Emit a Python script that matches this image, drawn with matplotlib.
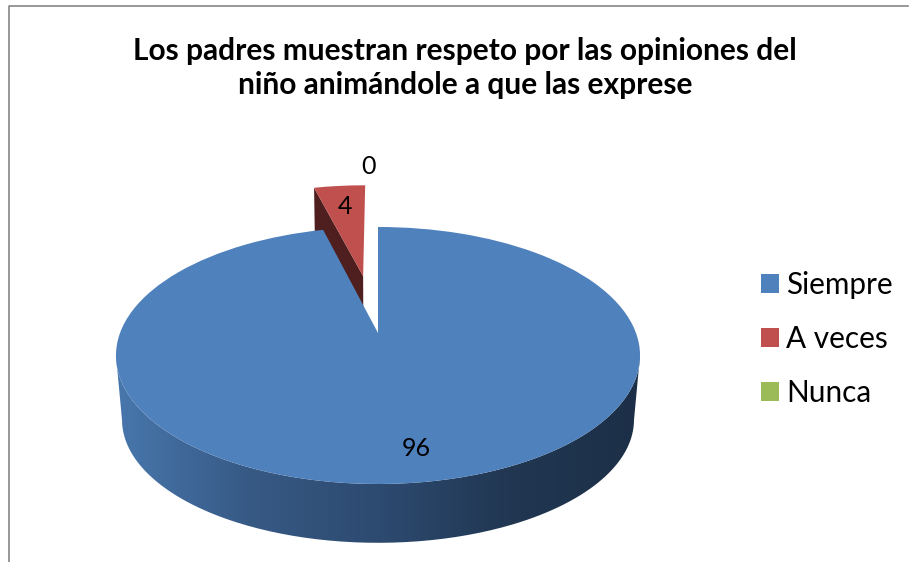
import matplotlib
matplotlib.use("Agg")
import matplotlib.pyplot as plt
import numpy as np
from matplotlib.colors import LinearSegmentedColormap
from matplotlib.patches import Patch, PathPatch, Polygon
from matplotlib.path import Path
from matplotlib.transforms import Transform

plt.rcParams['font.family'] = ['Lato', 'DejaVu Sans']

title = "Los padres muestran respeto por las opiniones del\nniño animándole a que las exprese"
categories = ["Siempre", "A veces", "Nunca"]
values = [96, 4, 0]
colors = ["#4f81bd", "#c0504d", "#9bbb59"]
explode = [0, 0.5, 0]


class Persp(Transform):
    # tilted view of the pie disk, unit disk -> image pixels
    input_dims = 2
    output_dims = 2

    def __init__(self, a=66.3, b=333.0, m=0.0):
        super().__init__()
        self.a = a
        self.b = b
        self.m = m

    def transform_non_affine(self, xy):
        xy = np.asarray(xy, dtype=float)
        u, v = xy[:, 0], xy[:, 1]
        w = 1 + 0.175 * v + self.m
        return np.column_stack([378 + 258 * u / w, (self.b - self.a * v) / w])


top = Persp()
bottom = Persp(a=52.3, b=408.0, m=0.023)


def wall(p_top, p_bottom):
    return np.vstack([top.transform_non_affine(p_top),
                      bottom.transform_non_affine(p_bottom)[::-1]])


fig = plt.figure(figsize=(9.09, 5.62), dpi=100)
ax = fig.add_axes([0, 0, 1, 1])

wedges, _ = ax.pie(values, colors=colors, startangle=90, counterclock=False,
                   explode=explode, frame=True, wedgeprops=dict(linewidth=0))
ax.set_aspect('auto')
for w in wedges:
    w.set_transform(top + ax.transData)

blue, red = wedges[0], wedges[1]
blue.set_zorder(5)
red.set_zorder(3)

# red slice, cut face on the left
ang = np.radians(red.theta2)
edge = np.array([red.center, np.array(red.center) + [np.cos(ang), np.sin(ang)]])
ax.add_patch(Polygon(wall(edge, edge), closed=True, fc="#4f1f1f", lw=0, zorder=2))

# blue slice, rim with gradient
t = np.radians(np.linspace(190, 350, 200))
rim = np.column_stack([np.cos(t), np.sin(t)])
rim_path = Path(wall(rim, rim), closed=False)
side_cmap = LinearSegmentedColormap.from_list(
    "side", ["#4877ad", "#375a85", "#2d4a70", "#213752", "#1c2f47"])
im = ax.imshow(np.linspace(0, 1, 256).reshape(1, -1), cmap=side_cmap, aspect='auto',
               extent=(116, 641, 560, 200), zorder=4)
clip = PathPatch(rim_path, transform=ax.transData, fc='none', lw=0)
ax.add_patch(clip)
im.set_clip_path(clip)

ax.set_xlim(0, 909)
ax.set_ylim(562, 0)
ax.set_xticks([])
ax.set_yticks([])
for s in ax.spines.values():
    s.set_visible(False)

# chart frame, only left and top show
ax.plot([8.5, 8.5, 908], [562, 5.5, 5.5], color="#868686", lw=1.2, zorder=1)

ax.text(465, 68, title, ha='center', va='center', fontsize=21.5, fontweight='bold',
        color='black', linespacing=1.3)

ax.text(416, 448, str(values[0]), ha='center', va='center', fontsize=18, zorder=6)
ax.text(345, 206, str(values[1]), ha='center', va='center', fontsize=18, zorder=6)
ax.text(368, 166, str(values[2]), ha='center', va='center', fontsize=18, zorder=6)

handles = [Patch(fc=c, lw=0) for c in colors]
ax.legend(handles, categories, loc='upper left', bbox_to_anchor=(761 / 909, 1 - 271 / 562),
          frameon=False, fontsize=21.4, handlelength=0.607, handleheight=0.607,
          handletextpad=0.235, labelspacing=0.88, borderpad=0, borderaxespad=0)

fig.savefig("out.png", dpi=100)
